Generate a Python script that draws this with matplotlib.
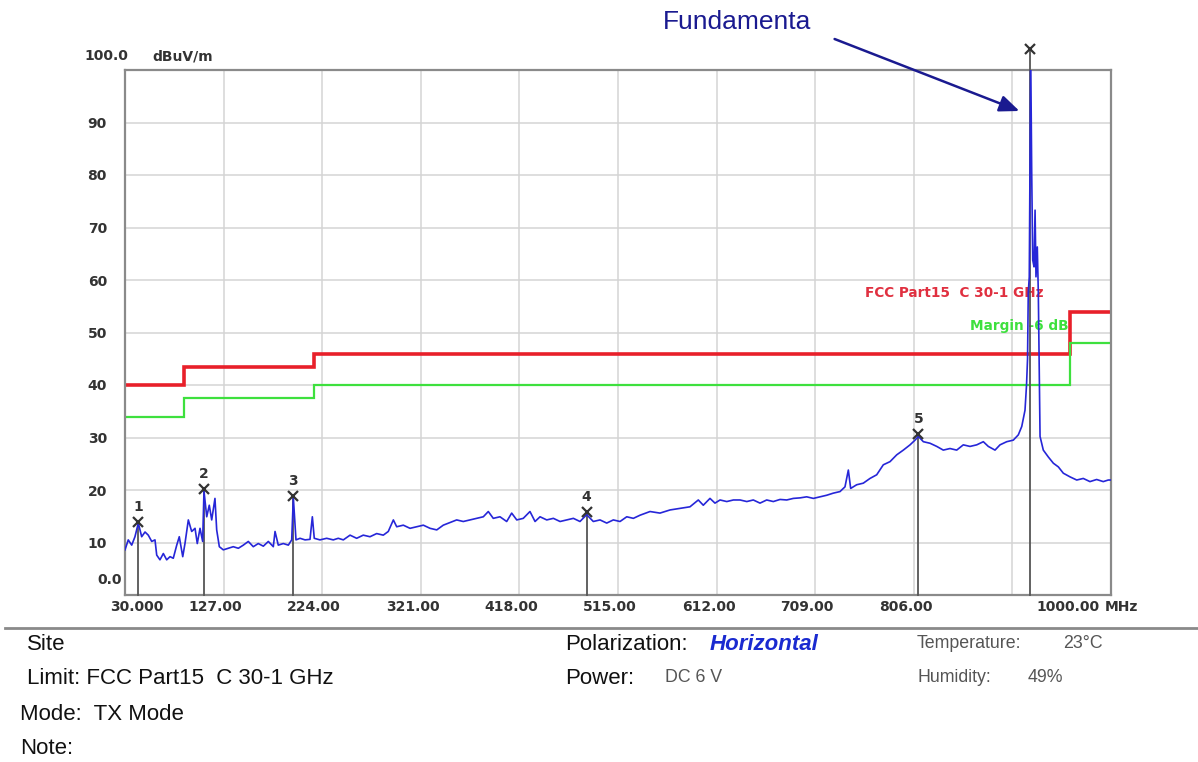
import matplotlib
matplotlib.use("Agg")
import matplotlib.pyplot as plt
import numpy as np

# spectrum trace (MHz, dBuV/m)
freq = [30.0, 33.2, 36.6, 39.8, 43.1, 46.4, 49.7, 52.9, 56.3, 59.5, 61.2, 64.4, 67.7, 71.0,
        74.3, 77.5, 80.9, 83.4, 86.8, 89.0, 92.3, 95.6, 98.9, 101.1, 103.8, 106.4, 107.7,
        110.4, 112.9, 115.3, 118.5, 120.2, 122.8, 126.7, 131.6, 136.5, 141.5, 146.4, 151.3,
        156.2, 161.1, 166.1, 171.0, 175.9, 177.6, 180.8, 185.7, 190.7, 194.0, 195.6, 198.2,
        202.2, 207.1, 212.0, 214.3, 216.2, 221.8, 228.4, 234.9, 239.8, 244.8, 251.4, 257.9,
        264.4, 271.0, 277.6, 284.1, 289.0, 294.0, 297.3, 303.8, 310.4, 317.0, 323.5, 330.1,
        336.7, 343.1, 349.7, 356.3, 362.8, 369.4, 376.0, 382.5, 387.4, 392.3, 398.9, 405.5,
        410.4, 415.4, 421.8, 428.4, 433.4, 438.3, 444.9, 451.4, 458.0, 464.5, 471.1, 477.6,
        484.2, 490.7, 497.3, 503.9, 510.4, 517.0, 523.6, 530.1, 536.7, 546.5, 556.3, 566.2,
        576.0, 585.8, 594.0, 598.9, 605.5, 610.4, 615.4, 622.0, 628.5, 635.1, 641.7, 648.1,
        654.7, 661.3, 667.8, 674.4, 681.0, 687.5, 694.1, 700.6, 707.2, 713.7, 720.3, 726.8,
        733.4, 738.3, 741.6, 743.9, 749.8, 756.3, 762.9, 769.5, 776.0, 782.6, 789.2, 795.7,
        802.3, 807.2, 810.5, 815.4, 822.0, 828.6, 835.0, 841.6, 848.2, 854.7, 861.3, 867.9,
        874.4, 879.3, 885.9, 890.8, 897.4, 903.9, 908.8, 912.2, 915.4, 916.9, 917.9, 918.6,
        919.6, 921.0, 922.0, 923.0, 924.3, 925.3, 926.2, 927.5, 928.5, 930.2, 933.4, 938.3,
        943.3, 948.2, 953.1, 959.7, 966.3, 972.7, 979.3, 985.9, 992.4, 997.3, 1000.0]
level = [8.6, 10.5, 9.5, 11.1, 13.7, 11.1, 12.0, 11.4, 10.2, 10.5, 7.6, 6.7, 7.9, 6.7,
         7.3, 7.0, 9.5, 11.1, 7.3, 9.8, 14.3, 12.1, 12.7, 9.8, 12.7, 10.2, 19.8,
         14.9, 17.1, 14.3, 18.4, 12.4, 9.2, 8.6, 8.9, 9.2, 8.9, 9.5, 10.2,
         9.2, 9.8, 9.3, 10.2, 9.2, 12.1, 9.5, 9.8, 9.5, 10.5, 18.6, 10.5,
         10.8, 10.5, 10.6, 14.9, 10.8, 10.5, 10.8, 10.5, 10.8, 10.5, 11.4, 10.8,
         11.4, 11.1, 11.7, 11.4, 12.1, 14.3, 13.0, 13.3, 12.7, 13.0, 13.3, 12.7,
         12.4, 13.3, 13.8, 14.3, 14.0, 14.3, 14.6, 14.9, 15.9, 14.6, 14.9, 14.0,
         15.6, 14.3, 14.6, 15.9, 14.0, 14.9, 14.3, 14.6, 14.0, 14.3, 14.6, 14.0,
         15.3, 14.0, 14.3, 13.7, 14.3, 14.0, 14.9, 14.6, 15.2, 15.9, 15.6, 16.2,
         16.5, 16.8, 18.1, 17.1, 18.4, 17.5, 18.1, 17.8, 18.1, 18.1, 17.8, 18.1,
         17.5, 18.1, 17.8, 18.2, 18.1, 18.4, 18.5, 18.7, 18.4, 18.7, 19.0, 19.4,
         19.7, 20.6, 23.8, 20.3, 21.0, 21.3, 22.2, 22.9, 24.8, 25.4, 26.7, 27.6,
         28.6, 29.5, 30.2, 29.2, 28.9, 28.3, 27.6, 27.9, 27.6, 28.6, 28.3, 28.6,
         29.2, 28.3, 27.6, 28.6, 29.2, 29.5, 30.5, 32.1, 35.2, 40.0, 45.0, 57.5,
         60.6, 103.0, 80.3, 63.8, 62.5, 73.3, 60.6, 66.3, 57.5, 30.2, 27.6, 26.3,
         25.1, 24.4, 23.2, 22.5, 21.9, 22.2, 21.6, 22.0, 21.6, 21.9, 21.9]

# FCC Part15 C limit (class B) and the -6 dB margin line
limit_edges = [30, 88, 216, 960, 1000]
limit_levels = [40, 43.5, 46, 54]
margin_db = 6

# peak markers
marker_id = ["1", "2", "3", "4", "5", ""]
marker_freq = [43.1, 107.7, 195.6, 484.2, 810.5, 920.5]
marker_level = [13.9, 20.2, 18.8, 15.8, 30.6, 104.0]

x_ticks = [30, 127, 224, 321, 418, 515, 612, 709, 806, 903, 1000]
x_labels = ["30.000", "127.00", "224.00", "321.00", "418.00", "515.00",
            "612.00", "709.00", "806.00", "", "1000.00"]
y_ticks = [10, 20, 30, 40, 50, 60, 70, 80, 90]

W, H = 1198, 762


def px(x, y):
    # pixel position in the picture -> figure fraction
    return x / W, 1 - y / H


fig = plt.figure(figsize=(W / 100, H / 100), dpi=100)
plt.rcParams['font.family'] = ['Liberation Sans', 'DejaVu Sans']
axfont = dict(fontsize=10, fontweight='bold', color='#333333', family='DejaVu Sans')

ax = fig.add_axes([125 / W, 1 - 595 / H, 986 / W, 525 / H])
ax.set_xlim(30, 1000)
ax.set_ylim(0, 100)

# grid
for xv in x_ticks[1:-1]:
    ax.axvline(xv, color='#d4d4d4', lw=1.1, zorder=0)
for yv in y_ticks:
    ax.axhline(yv, color='#d4d4d4', lw=1.1, zorder=0)

# limit + margin
edges = np.array(limit_edges)
lim = np.array(limit_levels)
ax.stairs(lim, edges, baseline=None, color='#e8202a', lw=2.6, zorder=2)
ax.stairs(lim - margin_db, edges, baseline=None, color='#3ee03e', lw=1.6, zorder=2)
ax.text(758, 57.5, "FCC Part15  C 30-1 GHz", color='#e03040', fontsize=9.8,
        fontweight='bold', family='DejaVu Sans', va='center', zorder=3)
ax.text(861, 51.2, "Margin -6 dB", color='#3ee03e', fontsize=9.8,
        fontweight='bold', family='DejaVu Sans', va='center', zorder=3)

# marker stems
for f, v in zip(marker_freq, marker_level):
    ax.plot([f, f], [0, v], color='#555555', lw=1.3, zorder=3, clip_on=False)

# trace
ax.plot(freq, level, color='#2626d8', lw=1.2, zorder=4)

# markers
ax.plot(marker_freq, marker_level, 'x', color='#333333', ms=7, mew=1.6,
        zorder=5, clip_on=False)
for lab, f, v in zip(marker_id, marker_freq, marker_level):
    ax.text(f, v + 1.6, lab, ha='center', va='bottom', zorder=5, **axfont)

# frame / ticks
for s in ax.spines.values():
    s.set_color('#8a8a8a')
    s.set_linewidth(1.6)
ax.set_xticks([])
ax.set_yticks(y_ticks)
ax.set_yticklabels([str(v) for v in y_ticks], **axfont)
ax.tick_params(axis='y', length=0, pad=13)
ax.text(-0.003, 2.9, "0.0", transform=ax.get_yaxis_transform(), ha='right',
        va='center', **axfont)
fig.text(*px(128, 56), "100.0", ha='right', va='center', **axfont)
fig.text(*px(152, 56), "dBuV/m", ha='left', va='center', **axfont)

xt = ax.get_xaxis_transform()
for xv, lab in zip(x_ticks, x_labels):
    if not lab:
        continue
    off = 12 if xv == 30 else (-42 if xv == 1000 else -8)
    ax.text(xv + off, -0.022, lab, transform=xt, ha='center', va='center', **axfont)
ax.text(1000 - 6, -0.022, "MHz", transform=xt, ha='left', va='center', **axfont)

# fundamental callout
fig.text(*px(663, 22), "Fundamenta", ha='left', va='center', fontsize=19,
         color='#1a1a90')
ax.annotate("", xy=px(1022, 112), xycoords='figure fraction',
            xytext=px(832, 38), textcoords='figure fraction',
            arrowprops=dict(arrowstyle='-|>,head_length=1.2,head_width=0.5',
                            color='#1a1a90', lw=1.8), annotation_clip=False)

# report footer
fig.add_artist(plt.Line2D([5 / W, 1.0], [1 - 628 / H] * 2, color='#8a8a8a', lw=2))
foot = dict(fontsize=16, color='#111111', va='center', ha='left')
fig.text(*px(27, 645), "Site", **foot)
fig.text(*px(27, 679), "Limit: FCC Part15  C 30-1 GHz", **foot)
fig.text(*px(20, 714), "Mode:  TX Mode", **foot)
fig.text(*px(20, 748), "Note:", **foot)
fig.text(*px(565, 645), "Polarization:", **foot)
fig.text(*px(710, 644), "Horizontal", fontsize=16, color='#1a2ad0',
         fontweight='bold', fontstyle='italic', va='center', ha='left')
fig.text(*px(565, 679), "Power:", **foot)
small = dict(fontsize=12.8, color='#555555', va='center', ha='left')
fig.text(*px(665, 677), "DC 6 V", **small)
fig.text(*px(917, 643), "Temperature:", **small)
fig.text(*px(1063, 643), "23°C", **small)
fig.text(*px(917, 677), "Humidity:", **small)
fig.text(*px(1028, 677), "49%", **small)

fig.savefig("out.png", dpi=100)
